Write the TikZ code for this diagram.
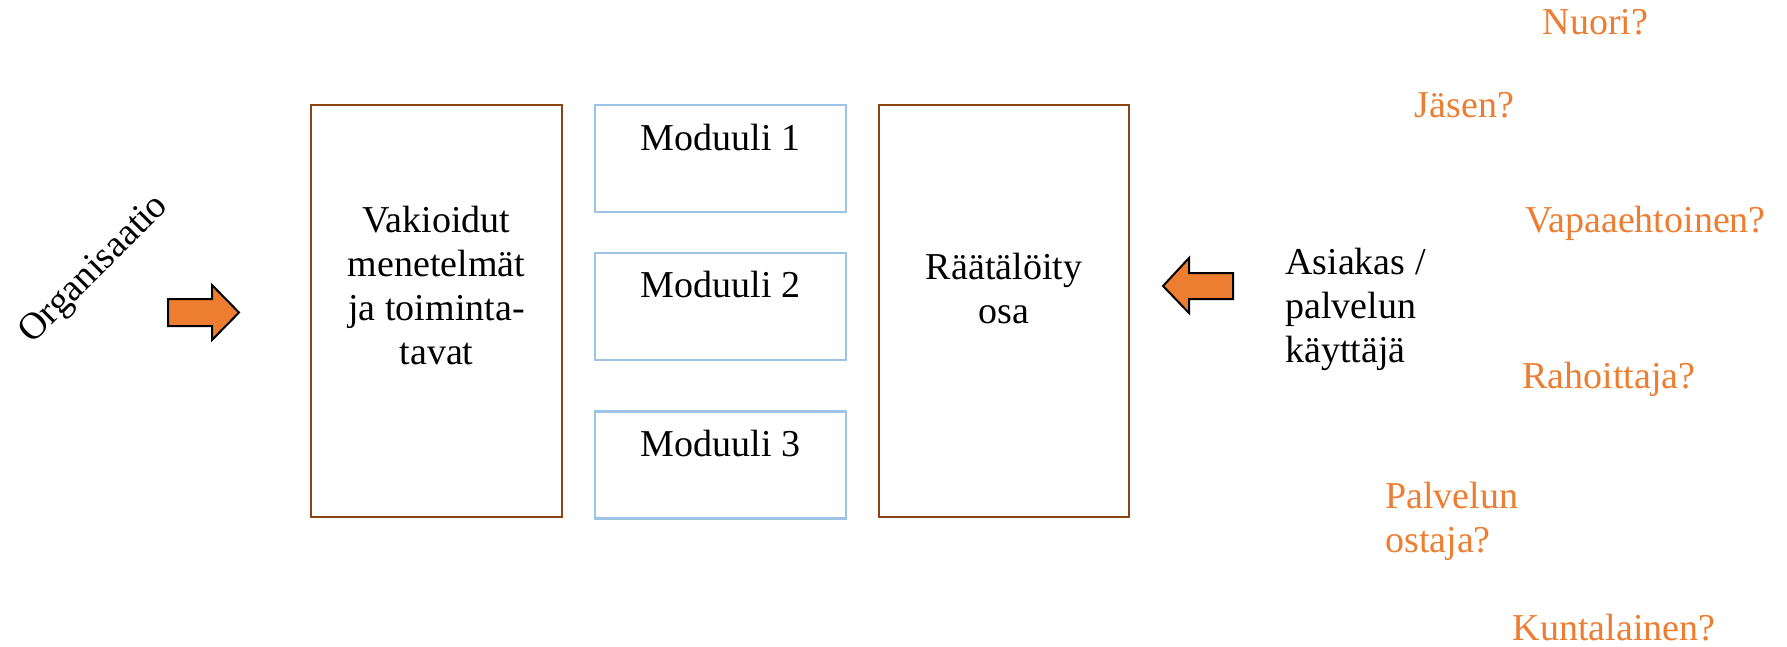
\documentclass[tikz,border=0pt]{standalone}
\usepackage{fontspec}
\setmainfont{Liberation Serif}
\definecolor{boxbrown}{RGB}{140,68,20}
\definecolor{modblue}{RGB}{157,195,230}
\definecolor{accorange}{RGB}{237,125,49}
\tikzset{
  bigbox/.style={draw=boxbrown, line width=2pt, minimum width=251pt, minimum height=412pt, inner sep=0pt},
  modbox/.style={draw=modblue, line width=2.6pt, minimum width=251pt, minimum height=107pt, inner sep=0pt},
  txt/.style={font=\fontsize{38}{44}\selectfont, inner sep=0pt},
  qtxt/.style={txt, text=accorange},
  blockarrow/.style={fill=accorange, draw=black, line width=2pt, line join=miter}
}
\begin{document}
\begin{tikzpicture}[x=1pt,y=-1pt]
\useasboundingbox (0,0) rectangle (1787,646);
% boxes
\node[bigbox] (std) at (436.5,311) {};
\node[modbox] (m1) at (720.5,158.5) {};
\node[modbox] (m2) at (720.5,306.5) {};
\node[modbox] (m3) at (720.5,465) {};
\node[bigbox, minimum width=250pt] (custom) at (1004,311) {};
% box texts
\node[txt, align=center, anchor=base] (stdtext) at (436.5,364) {Vakioidut\\menetelmät\\ja toiminta-\\tavat};
\node[txt, anchor=base] (m1text) at (720.5,150) {Moduuli 1};
\node[txt, anchor=base] (m2text) at (720.5,297) {Moduuli 2};
\node[txt, anchor=base] (m3text) at (720.5,456) {Moduuli 3};
\node[txt, align=center, anchor=base] (customtext) at (1004,323) {Räätälöity\\osa};
% left side
\node[txt, rotate=45] (org) at (95,270) {Organisaatio};
\draw[blockarrow] (168,299) -- (212,299) -- (212,285) -- (239,312.5) -- (212,340) -- (212,326) -- (168,326) -- cycle;
% right side
\draw[blockarrow] (1233,273) -- (1189,273) -- (1189,258) -- (1163,286) -- (1189,313) -- (1189,299) -- (1233,299) -- cycle;
\node[txt, align=left, anchor=base west] (client) at (1285,362) {Asiakas /\\palvelun\\käyttäjä};
% question labels
\node[qtxt, anchor=base] (q1) at (1595.5,34) {Nuori?};
\node[qtxt, anchor=base] (q2) at (1464.5,117) {Jäsen?};
\node[qtxt, anchor=base] (q3) at (1645.5,232) {Vapaaehtoinen?};
\node[qtxt, anchor=base] (q4) at (1609,388) {Rahoittaja?};
\node[qtxt, align=left, anchor=base west] (q5) at (1385,552) {Palvelun\\ostaja?};
\node[qtxt, anchor=base] (q6) at (1614,640) {Kuntalainen?};
\end{tikzpicture}
\end{document}
